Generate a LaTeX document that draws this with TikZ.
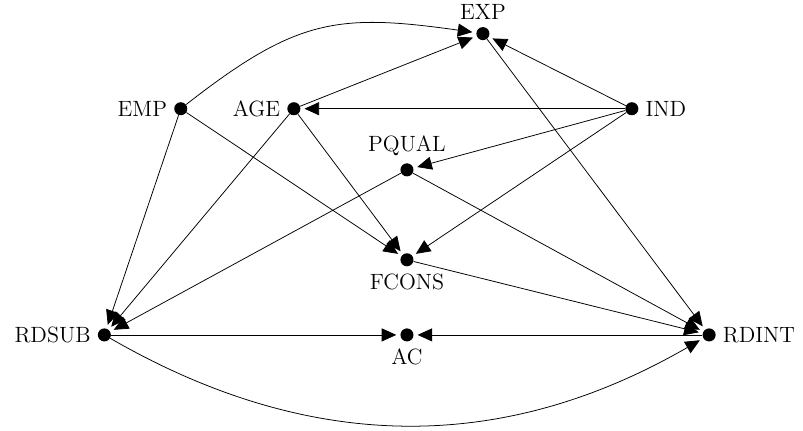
\documentclass[tikz,border=0pt]{standalone}
\usetikzlibrary{arrows.meta,positioning}
\tikzset{
	%Define standard arrow tip
	>={Triangle[length=9.5pt,width=8.5pt]},
	%Define style for the variables
	var/.style={
		circle,
		fill=black,
		inner sep=0pt,
		minimum size=8.5pt},
	% Define arrow style
	pil/.style={
		->,
		line width=0.5pt,
		shorten >=2.5pt,}
}
\begin{document}
\begin{tikzpicture}[node distance=1cm, on grid, label distance=1pt,
	every label/.style={font=\Large}]
	\useasboundingbox (-9.32,-2.2) rectangle (9.07,7.67);

	\node[var, label=below:AC] (ac) at (0,0) {};
	\node[var, left=6.93cm of ac, label=left:RDSUB] (rdsub) {};
	\node[var, right=6.92cm of ac, label=right:RDINT] (rdint) {};

	\node[var, above=1.72cm of ac, label=below:FCONS] (fcons) {};
	\node[var, above=3.78cm of ac, label=above:PQUAL] (pqual) {};

	\node[var, above right=6.9cm and 1.74cm of ac, label=above:EXP] (exp) {};
	\node[var, above left=5.18cm and 5.18cm of ac, label=left:EMP] (emp) {};
	\node[var, right=2.59cm of emp, label=left:AGE] (age) {};
	\node[var, above right=5.18cm and 5.15cm of ac, label=right:IND] (ind) {};

	\path[pil]
	(emp) edge [out=38, in=172, looseness=1.2] (exp)
	(emp) edge (rdsub)
	(emp) edge (fcons)

	(age) edge (exp)
	(age) edge (rdsub)
	(age) edge (fcons)

	(ind) edge (exp)
	(ind) edge (age)
	(ind) edge (pqual)
	(ind) edge (fcons)

	(pqual) edge (rdsub)
	(pqual) edge (rdint)
	(fcons) edge (rdint)
	(exp) edge (rdint)

	(rdsub) edge (ac)
	(rdint) edge (ac)
	(rdsub) edge [bend right=30] (rdint)
	;
\end{tikzpicture}
\end{document}
